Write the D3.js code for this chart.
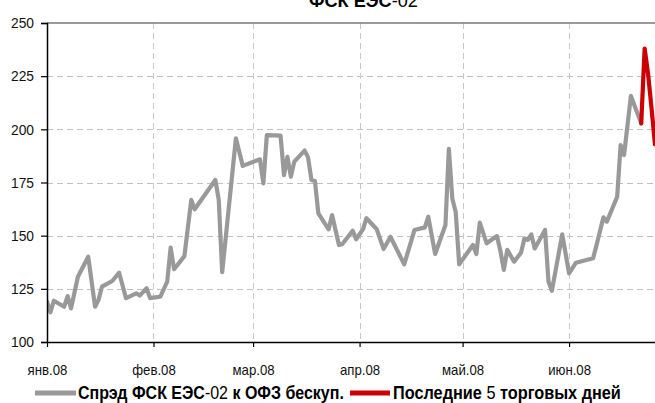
<!DOCTYPE html>
<html>
<head>
<meta charset="utf-8">
<script src="https://cdn.jsdelivr.net/npm/d3@7/dist/d3.min.js"></script>
<style>
  html, body { margin: 0; padding: 0; background: #fff; }
  svg { display: block; }
  text { font-family: 'Liberation Sans Narrow', 'Arial Narrow', 'Liberation Sans', Arial, sans-serif; }
</style>
</head>
<body>
<svg id="chart" width="655" height="403"></svg>
<script>
// ---- data ----
const spreadDates = [
  "2008-01-01","2008-01-02","2008-01-03","2008-01-06","2008-01-07","2008-01-08","2008-01-10","2008-01-13",
  "2008-01-15","2008-01-16","2008-01-17","2008-01-20","2008-01-22","2008-01-24","2008-01-27","2008-01-28",
  "2008-01-30","2008-01-31","2008-02-03","2008-02-05","2008-02-06","2008-02-07","2008-02-10","2008-02-12",
  "2008-02-13","2008-02-19","2008-02-20","2008-02-21","2008-02-25","2008-02-27","2008-03-03","2008-03-04",
  "2008-03-05","2008-03-09","2008-03-10","2008-03-11","2008-03-12","2008-03-13","2008-03-16","2008-03-17",
  "2008-03-18","2008-03-19","2008-03-20","2008-03-23","2008-03-24","2008-03-26","2008-03-27","2008-03-30",
  "2008-03-31","2008-04-02","2008-04-03","2008-04-06","2008-04-08","2008-04-10","2008-04-14","2008-04-17",
  "2008-04-20","2008-04-21","2008-04-23","2008-04-26","2008-04-27","2008-04-28","2008-04-29","2008-04-30",
  "2008-05-04","2008-05-05","2008-05-06","2008-05-08","2008-05-11","2008-05-12","2008-05-13","2008-05-14",
  "2008-05-16","2008-05-18","2008-05-19","2008-05-20","2008-05-21","2008-05-22","2008-05-25","2008-05-26",
  "2008-05-27","2008-05-30","2008-06-01","2008-06-03","2008-06-08","2008-06-09","2008-06-11","2008-06-12",
  "2008-06-15","2008-06-16","2008-06-17","2008-06-19","2008-06-22"
];
const spreadValues = [
  119, 114, 119.4, 116.6, 121.6, 115.8, 130.7, 140.1,
  116.6, 119.8, 126, 128.7, 132.6, 120.6, 122.9, 121.8,
  125.3, 120.6, 121.3, 128.4, 144.4, 134.2, 140.4, 166.8,
  162.4, 176.2, 166.8, 132.8, 195.8, 182.8, 185.9, 174.6,
  197.3, 197, 178.5, 187.1, 177.7, 184.8, 190, 186.8,
  176.2, 175.7, 160.5, 153, 159.7, 145.6, 146.1, 152.3,
  148.3, 153, 158.2, 153, 143.7, 149.5, 136.5, 152.7,
  153.9, 158.9, 141.4, 155, 190.8, 167.5, 161, 136.5,
  145.6, 141.4, 156.1, 146.4, 149.8, 142.8, 133.9, 143.3,
  137.8, 142, 148.7, 148, 150.6, 144, 152.7, 128.4,
  124.1, 150.6, 132.3, 137.3, 139.4, 145.6, 158.6, 156.6,
  168.3, 192.6, 187.9, 215.7, 202.8
];
const lastDates = ["2008-06-22","2008-06-23","2008-06-24","2008-06-25","2008-06-26"];
const lastValues = [202.8, 238, 226, 210, 193];
const yTicks = [100, 125, 150, 175, 200, 225, 250];
const monthTicks = ["2008-01-01","2008-02-01","2008-03-01","2008-04-01","2008-05-01","2008-06-01"];
const monthLabels = ["янв.08","фев.08","мар.08","апр.08","май.08","июн.08"];

// ---- layout ----
const svg = d3.select("#chart");
const mLeft = 47, mTop = 23, mBottom = 342, mRight = 679;
const parse = d3.utcParse("%Y-%m-%d");

const x = d3.scaleUtc()
  .domain([parse("2008-01-01"), parse("2008-07-03")])
  .range([mLeft, mRight]);
const y = d3.scaleLinear().domain([100, 250]).range([mBottom, mTop]);

const spread = spreadDates.map((d, i) => ({ date: parse(d), value: spreadValues[i] }));
const last = lastDates.map((d, i) => ({ date: parse(d), value: lastValues[i] }));

svg.append("defs").append("clipPath").attr("id", "plotclip")
  .append("rect").attr("x", mLeft).attr("y", 0).attr("width", mRight - mLeft).attr("height", mBottom);

// horizontal gridlines
svg.append("g").selectAll("line")
  .data(yTicks.filter(v => v > 100 && v < 250))
  .join("line")
  .attr("x1", mLeft).attr("x2", 655)
  .attr("y1", d => Math.round(y(d)) + 0.5).attr("y2", d => Math.round(y(d)) + 0.5)
  .attr("stroke", "#c0c0c0").attr("stroke-width", 1).attr("stroke-dasharray", "6,4");

// vertical gridlines
svg.append("g").selectAll("line")
  .data(monthTicks.slice(1).map(parse))
  .join("line")
  .attr("x1", d => Math.round(x(d)) + 0.5).attr("x2", d => Math.round(x(d)) + 0.5)
  .attr("y1", mTop).attr("y2", mBottom)
  .attr("stroke", "#c8c8c8").attr("stroke-width", 1).attr("stroke-dasharray", "6,4");

// top border at 250
svg.append("line")
  .attr("x1", mLeft).attr("x2", 655)
  .attr("y1", y(250)).attr("y2", y(250))
  .attr("stroke", "#7a7a7a").attr("stroke-width", 1.6);

// lines
const line = d3.line().x(d => x(d.date)).y(d => y(d.value));
const plot = svg.append("g").attr("clip-path", "url(#plotclip)");
plot.append("path").datum(spread)
  .attr("d", line).attr("fill", "none")
  .attr("stroke", "#999999").attr("stroke-width", 4.2)
  .attr("stroke-linejoin", "round").attr("stroke-linecap", "round");
plot.append("path").datum(last)
  .attr("d", line).attr("fill", "none")
  .attr("stroke", "#cc0000").attr("stroke-width", 4.2)
  .attr("stroke-linejoin", "round").attr("stroke-linecap", "round");

function condense(sel, factor) {
  sel.each(function () {
    const w = this.getComputedTextLength();
    d3.select(this).attr("textLength", w * factor).attr("lengthAdjust", "spacingAndGlyphs");
  });
}

// y axis
const yAxis = d3.axisLeft(y).tickValues(yTicks).tickSize(6).tickPadding(7);
const gy = svg.append("g").attr("transform", `translate(${mLeft},0)`).call(yAxis);
gy.select(".domain").attr("stroke", "#000").attr("stroke-width", 1.5);
gy.selectAll(".tick line").attr("stroke", "#000").attr("stroke-width", 1.2);
gy.selectAll(".tick text").attr("font-size", 15).attr("fill", "#111").call(condense, 0.92);

// x axis
const xAxis = d3.axisBottom(x).tickValues(monthTicks.map(parse))
  .tickFormat((d, i) => monthLabels[i]).tickSize(5).tickSizeOuter(0).tickPadding(17);
const gx = svg.append("g").attr("transform", `translate(0,${mBottom})`).call(xAxis);
gx.select(".domain").attr("stroke", "#000").attr("stroke-width", 1.5);
gx.selectAll(".tick line").attr("stroke", "#000").attr("stroke-width", 1.2);
gx.selectAll(".tick text").attr("font-size", 15).attr("fill", "#111").call(condense, 0.88);

// scale a multi-run text horizontally to a target width
function fitWidth(textSel, x0, y0, target) {
  const w = textSel.node().getComputedTextLength();
  textSel.attr("x", 0).attr("y", 0)
    .attr("transform", `translate(${x0},${y0}) scale(${target / w},1)`);
}

// title
const title = svg.append("text")
  .attr("font-size", 18).attr("fill", "#000");
title.append("tspan").attr("font-weight", "bold").text("ФСК ЕЭС");
title.append("tspan").text("-02");
fitWidth(title, 309, 7, 109);

// legend
const ly = 393;
svg.append("line").attr("x1", 35).attr("x2", 76).attr("y1", ly).attr("y2", ly)
  .attr("stroke", "#999999").attr("stroke-width", 5);
const t1 = svg.append("text").attr("font-size", 18).attr("fill", "#000");
t1.append("tspan").attr("font-weight", "bold").text("Спрэд ФСК ЕЭС");
t1.append("tspan").text("-02");
t1.append("tspan").attr("font-weight", "bold").text(" к ОФЗ бескуп.");
fitWidth(t1, 78, 399, 266);

svg.append("line").attr("x1", 350).attr("x2", 390).attr("y1", ly).attr("y2", ly)
  .attr("stroke", "#cc0000").attr("stroke-width", 5);
const t2 = svg.append("text").attr("font-size", 18).attr("fill", "#000");
t2.append("tspan").attr("font-weight", "bold").text("Последние ");
t2.append("tspan").text("5");
t2.append("tspan").attr("font-weight", "bold").text(" торговых дней");
fitWidth(t2, 393, 399, 228);
</script>
</body>
</html>
